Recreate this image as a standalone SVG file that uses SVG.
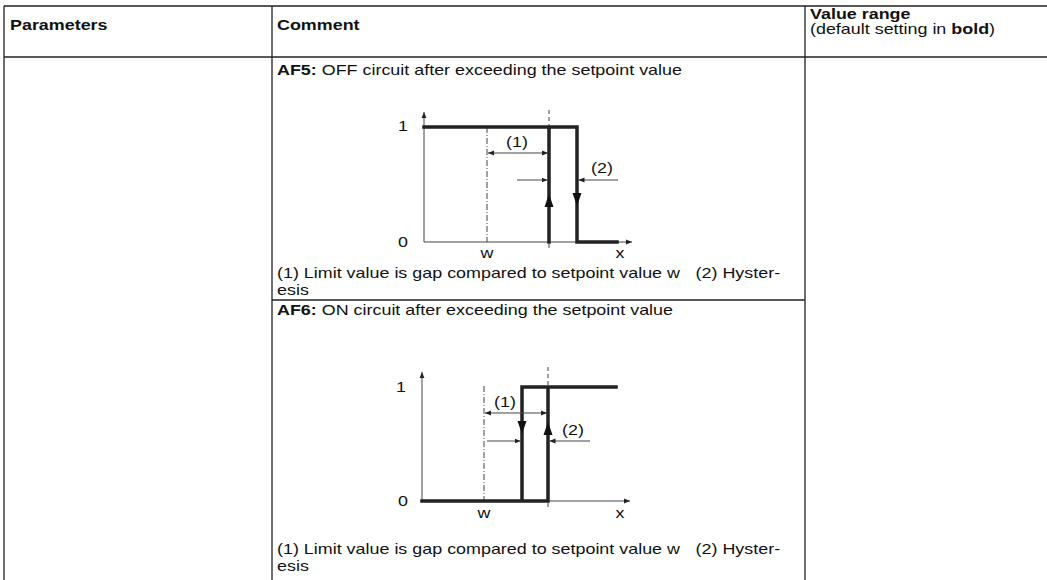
<svg xmlns="http://www.w3.org/2000/svg" width="1047" height="580" viewBox="0 0 1047 580">
<style>
text{font-family:"Liberation Sans",Arial,sans-serif;font-size:14px;fill:#111}
.b{font-weight:bold}
.m{text-anchor:middle}
.grid{stroke:#222;stroke-width:1.3;fill:none}
.ax{stroke:#444;stroke-width:1;fill:none}
.thick{stroke:#222;stroke-width:3.5;fill:none;stroke-linecap:square}
.dd{stroke:#444;stroke-width:1;stroke-dasharray:6,2,1,2;fill:none}
.ds{stroke:#444;stroke-width:1;stroke-dasharray:4,3;fill:none}
.dim{stroke:#444;stroke-width:1;fill:none}
.head{fill:#111}
</style>
<defs>
<marker id="ah" viewBox="0 0 10 10" refX="10" refY="5" markerWidth="6" markerHeight="6" markerUnits="userSpaceOnUse" orient="auto-start-reverse">
<path d="M0,1 L10,5 L0,9 Z" fill="#222"/>
</marker>
</defs>
<g id="table">
<path class="grid" d="M4,6 H1047 M4,57 H1047 M4,6 V580 M272,6 V580 M805,6 V580 M272,300 H805"/>
</g>
<g id="header">
<text class="b" transform="translate(10,30) scale(1.28,1)">Parameters</text>
<text class="b" transform="translate(277,30) scale(1.28,1)">Comment</text>
<text class="b" transform="translate(810,19) scale(1.28,1)">Value range</text>
<text transform="translate(810,34) scale(1.28,1)">(default setting in <tspan class="b">bold</tspan>)</text>
</g>
<g id="af5">
<text transform="translate(277,75) scale(1.28,1)"><tspan class="b">AF5:</tspan> OFF circuit after exceeding the setpoint value</text>
<path class="ax" d="M424,242 V112" marker-end="url(#ah)"/>
<path class="ax" d="M424,242 H632" marker-end="url(#ah)"/>
<path class="dd" d="M487,127 V242"/>
<path class="ds" d="M549,110 V127 M549,244 V250"/>
<path class="thick" d="M424,127 H577 V242 H617 M549,242 V127"/>
<polygon class="head" points="549,194 544.5,207 553.5,207"/>
<polygon class="head" points="577,206 572.5,193 581.5,193"/>
<path class="dim" d="M488,153 H548" marker-start="url(#ah)" marker-end="url(#ah)"/>
<path class="dim" d="M517,180 H547.5" marker-end="url(#ah)"/>
<path class="dim" d="M618,180 H578.5" marker-end="url(#ah)"/>
<text class="m" transform="translate(403,131) scale(1.28,1)">1</text>
<text class="m" transform="translate(403,247) scale(1.28,1)">0</text>
<text class="m" transform="translate(487,258) scale(1.28,1)">w</text>
<text class="m" transform="translate(620,258) scale(1.28,1)">x</text>
<text class="m" transform="translate(517,147) scale(1.28,1)">(1)</text>
<text class="m" transform="translate(602,173) scale(1.28,1)">(2)</text>
<text transform="translate(277,278) scale(1.28,1)">(1) Limit value is gap compared to setpoint value w<tspan x="327">(2) Hyster-</tspan></text>
<text transform="translate(277,295) scale(1.28,1)">esis</text>
</g>
<g id="af6">
<text transform="translate(277,315) scale(1.28,1)"><tspan class="b">AF6:</tspan> ON circuit after exceeding the setpoint value</text>
<path class="ax" d="M422,501 V372" marker-end="url(#ah)"/>
<path class="ax" d="M422,501 H630" marker-end="url(#ah)"/>
<path class="dd" d="M484,386 V501"/>
<path class="ds" d="M548,367 V387 M548,503 V509"/>
<path class="thick" d="M422,501 H548 V387 M522,501 V387 H616"/>
<polygon class="head" points="522,434 517.5,421 526.5,421"/>
<polygon class="head" points="548,422 543.5,435 552.5,435"/>
<path class="dim" d="M485,413 H547" marker-start="url(#ah)" marker-end="url(#ah)"/>
<path class="dim" d="M487,441 H520.5" marker-end="url(#ah)"/>
<path class="dim" d="M590,441 H549.5" marker-end="url(#ah)"/>
<text class="m" transform="translate(401,392) scale(1.28,1)">1</text>
<text class="m" transform="translate(403,506) scale(1.28,1)">0</text>
<text class="m" transform="translate(484,518) scale(1.28,1)">w</text>
<text class="m" transform="translate(620,518) scale(1.28,1)">x</text>
<text class="m" transform="translate(505,407) scale(1.28,1)">(1)</text>
<text class="m" transform="translate(573,435) scale(1.28,1)">(2)</text>
<text transform="translate(277,554) scale(1.28,1)">(1) Limit value is gap compared to setpoint value w<tspan x="327">(2) Hyster-</tspan></text>
<text transform="translate(277,571) scale(1.28,1)">esis</text>
</g>
</svg>
